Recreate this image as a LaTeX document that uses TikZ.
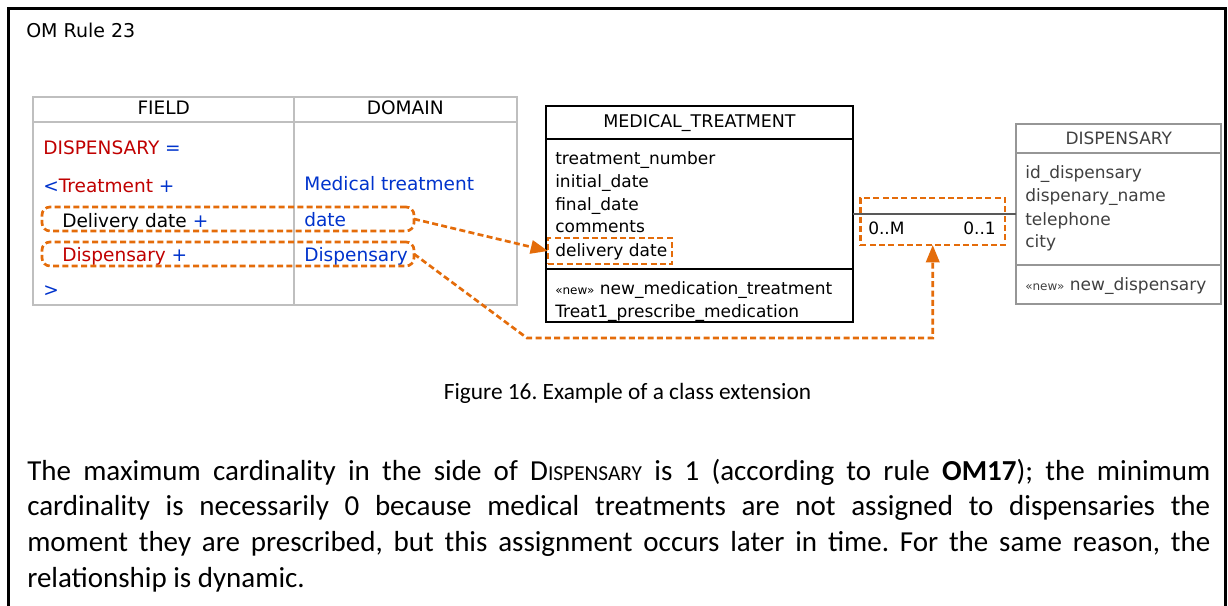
\documentclass[tikz,border=0pt]{standalone}
\usepackage{fontspec}
\setmainfont{Carlito}
\newfontfamily\umlfont{DejaVu Sans}
\usetikzlibrary{arrows.meta}
\frenchspacing

\definecolor{fieldred}{RGB}{192,0,0}
\definecolor{domblue}{RGB}{0,51,204}
\definecolor{selorange}{RGB}{228,108,10}
\definecolor{tblgray}{RGB}{191,191,191}
\definecolor{dispgray}{RGB}{150,150,150}
\definecolor{disptext}{RGB}{64,64,64}

\tikzset{
	frame/.style={line width=2.25pt},
	tblcell/.style={draw=tblgray, line width=1.5pt, inner sep=0pt, outer sep=0pt},
	mtcell/.style={draw=black, line width=1.5pt, inner sep=0pt, outer sep=0pt},
	dpcell/.style={draw=dispgray, line width=1.5pt, inner sep=0pt, outer sep=0pt},
	tbltxt/.style={anchor=base west, inner sep=0pt, font=\umlfont\fontsize{13.9pt}{16pt}\selectfont},
	clstxt/.style={anchor=base west, inner sep=0pt, font=\umlfont\fontsize{12.75pt}{15pt}\selectfont},
	selbox/.style={draw=selorange, line width=2pt, dash pattern=on 4.5pt off 2.5pt, inner sep=0pt, outer sep=0pt},
	selarrow/.style={draw=selorange, line width=2pt, dash pattern=on 4.5pt off 2.5pt, -{Triangle[length=13pt,width=10pt]}},
	assoc/.style={draw=black!65, line width=1.1pt},
}
\newcommand{\stereo}{{\fontsize{9pt}{10pt}\selectfont «new»}}

\begin{document}
\begin{tikzpicture}[x=0.75pt,y=-0.75pt]
	\useasboundingbox (0,0) rectangle (1228,606);
	\draw[frame] (8.5,606) -- (8.5,8.5) -- (1225.5,8.5) -- (1225.5,606);
	\node[tbltxt, font=\umlfont\fontsize{14.25pt}{16pt}\selectfont] (rule) at (26,38) {OM Rule 23};

	% FIELD / DOMAIN table
	\node[tblcell, minimum width=195.4pt, minimum height=19.1pt] (fieldhd) at (163.75,109.25) {};
	\node[tblcell, minimum width=166.9pt, minimum height=19.1pt] (domhd) at (405.25,109.25) {};
	\node[tblcell, minimum width=195.4pt, minimum height=137.25pt] (fieldbd) at (163.75,213.5) {};
	\node[tblcell, minimum width=166.9pt, minimum height=137.25pt] (dombd) at (405.25,213.5) {};
	\node[tbltxt, anchor=base] (fieldlbl) at (163.75,115) {FIELD};
	\node[tbltxt, anchor=base] (domlbl) at (405.25,115) {DOMAIN};

	\node[tbltxt] (fdisp) at (43,155) {\color{fieldred}DISPENSARY \color{domblue}=};
	\node[tbltxt] (ftreat) at (43,192.5) {\color{domblue}<\color{fieldred}Treatment \color{domblue}+};
	\node[tbltxt] (fdel) at (62,228) {Delivery date \color{domblue}+};
	\node[tbltxt] (fdsp) at (62,261.5) {\color{fieldred}Dispensary \color{domblue}+};
	\node[tbltxt, text=domblue] (fend) at (43,296) {>};
	\node[tbltxt, text=domblue] (dmed) at (304,190.5) {Medical treatment};
	\node[tbltxt, text=domblue] (ddate) at (304,226) {date};
	\node[tbltxt, text=domblue] (ddsp) at (304,261) {Dispensary};

	\node[selbox, rounded corners=6pt, minimum width=279pt, minimum height=18pt] (selDel) at (228,219) {};
	\node[selbox, rounded corners=6pt, minimum width=279pt, minimum height=18pt] (selDisp) at (228,254) {};

	% MEDICAL_TREATMENT class
	\node[mtcell, minimum width=230.25pt, minimum height=24.75pt] (mthead) at (699.5,122.5) {};
	\node[mtcell, minimum width=230.25pt, minimum height=97.5pt] (mtattr) at (699.5,204) {};
	\node[mtcell, minimum width=230.25pt, minimum height=39.4pt] (mtops) at (699.5,295.25) {};
	\node[clstxt, anchor=base, font=\umlfont\fontsize{13.1pt}{15pt}\selectfont] (mtname) at (699.5,127.3) {MEDICAL\_TREATMENT};
	\node[clstxt] (mta) at (555,165) {treatment\_number};
	\node[clstxt] (mtb) at (555,187.3) {initial\_date};
	\node[clstxt] (mtc) at (555,210) {final\_date};
	\node[clstxt] (mtd) at (555,232.7) {comments};
	\node[clstxt] (mte) at (555,256) {delivery date};
	\node[clstxt] (mtf) at (555,294) {\stereo{} new\_medication\_treatment};
	\node[clstxt] (mtg) at (555,317) {Treat1\_prescribe\_medication};
	\node[selbox, minimum width=93pt, minimum height=19.5pt] (selDD) at (610,251) {};

	% DISPENSARY class
	\node[dpcell, minimum width=154.1pt, minimum height=21.75pt] (dphead) at (1118.75,138.5) {};
	\node[dpcell, minimum width=154.1pt, minimum height=84pt] (dpattr) at (1118.75,209) {};
	\node[dpcell, minimum width=154.1pt, minimum height=29.6pt] (dpops) at (1118.75,284.75) {};
	\node[clstxt, anchor=base, text=disptext] (dpname) at (1118.75,144.3) {DISPENSARY};
	\node[clstxt, text=disptext] (dpa) at (1025,178.3) {id\_dispensary};
	\node[clstxt, text=disptext] (dpb) at (1025,201.7) {dispenary\_name};
	\node[clstxt, text=disptext] (dpc) at (1025,225) {telephone};
	\node[clstxt, text=disptext] (dpd) at (1025,247.3) {city};
	\node[clstxt, text=disptext] (dpe) at (1025,290) {\stereo{} new\_dispensary};

	% association
	\coordinate (assocL) at (853,214);
	\draw[assoc] (assocL) -- (assocL -| dpattr.west);
	\node[clstxt] (multM) at (868,234) {0..M};
	\node[clstxt, anchor=base east] (mult1) at (996,234) {0..1};
	\node[selbox, minimum width=108.4pt, minimum height=35.25pt] (selMult) at (932.75,221.5) {};

	\draw[selarrow] (selDel.east) -- (selDD.west);
	\coordinate (bendA) at (527,338);
	\coordinate (bendB) at (932.75,338);
	\draw[selarrow] (selDisp.east) -- (bendA) -- (bendB) -- (selMult.south);

	\node[anchor=base, inner sep=0pt, font=\fontsize{17.5pt}{21pt}\selectfont] (caption) at (627.5,399.5) {Figure 16. Example of a class extension};

	\node[anchor=base west, inner sep=0pt, text width=887.25pt, align=justify, font=\fontsize{21.75pt}{26.85pt}\selectfont] (para) at (27,480) {\noindent The maximum cardinality in the side of D{\fontsize{16pt}{26.85pt}\selectfont ISPENSARY} is 1 (according to rule \textbf{OM17}); the minimum\linebreak cardinality is necessarily 0 because medical treatments are not assigned to dispensaries the\linebreak moment they are prescribed, but this assignment occurs later in time. For the same reason, the\linebreak relationship is dynamic.};
\end{tikzpicture}
\end{document}
